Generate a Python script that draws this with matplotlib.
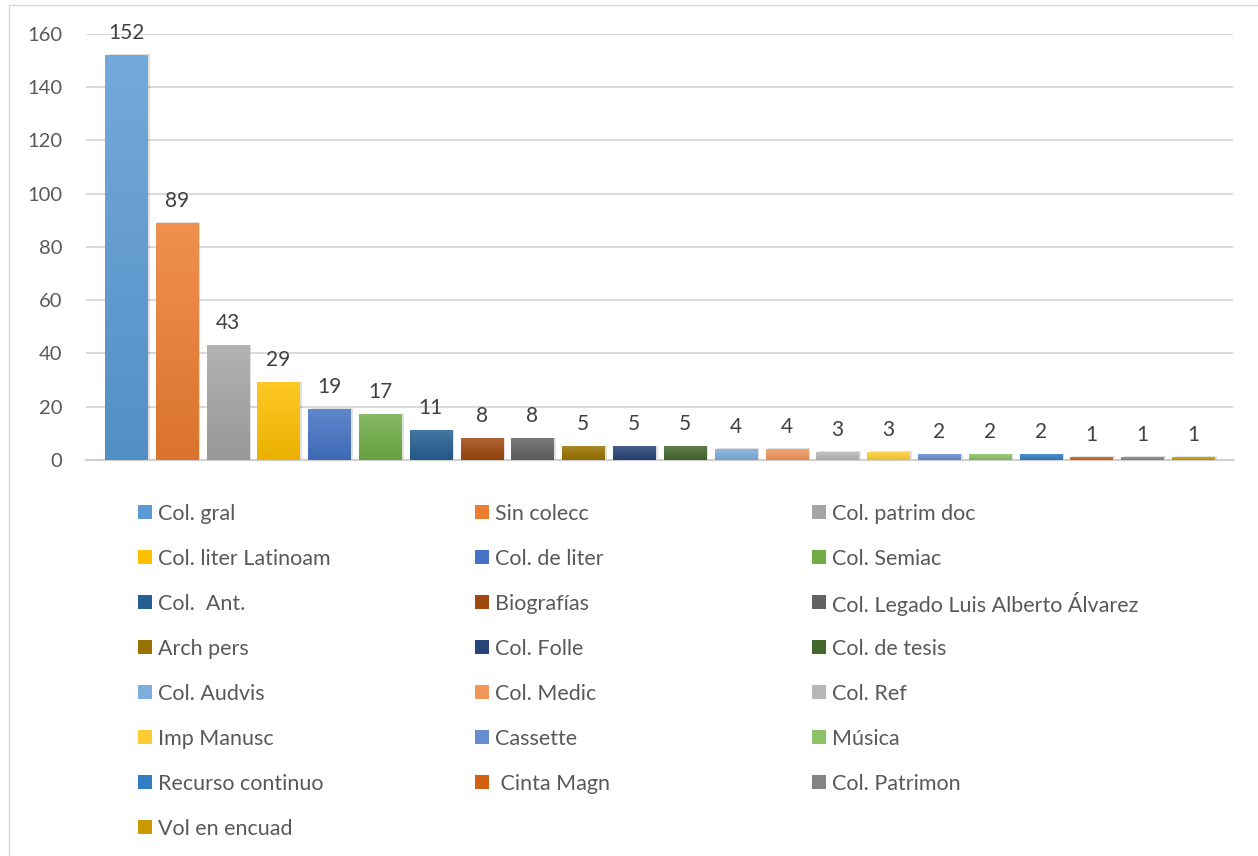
import numpy as np
import matplotlib
matplotlib.use("Agg")
import matplotlib.pyplot as plt
from matplotlib.colors import LinearSegmentedColormap, to_rgb
from matplotlib.patches import Rectangle
from matplotlib.lines import Line2D

# Data
categories = ["Col. gral", "Sin colecc", "Col. patrim doc", "Col. liter Latinoam",
              "Col. de liter", "Col. Semiac", "Col.  Ant.", "Biografías",
              "Col. Legado Luis Alberto Álvarez", "Arch pers", "Col. Folle",
              "Col. de tesis", "Col. Audvis", "Col. Medic", "Col. Ref",
              "Imp Manusc", "Cassette", "Música", "Recurso continuo",
              " Cinta Magn", "Col. Patrimon", "Vol en encuad"]
values = [152, 89, 43, 29, 19, 17, 11, 8, 8, 5, 5, 5, 4, 4, 3, 3, 2, 2, 2, 1, 1, 1]
colors = ["#5B9BD5", "#ED7D31", "#A5A5A5", "#FFC000", "#4472C4", "#70AD47",
          "#255E91", "#9E480E", "#636363", "#997300", "#264478", "#43682B",
          "#7CAFDD", "#F1975A", "#B7B7B7", "#FFCD33", "#698ED0", "#8CC168",
          "#327DC2", "#D26012", "#848484", "#CC9A00"]
yticks = [0, 20, 40, 60, 80, 100, 120, 140, 160]

plt.rcParams['font.family'] = ['Lato', 'DejaVu Sans']
text_col = "#595959"
W, H = 1258, 856


def shade(c, f):
    # f > 0 lightens towards white, f < 0 darkens
    r = np.array(to_rgb(c))
    if f > 0:
        return tuple(r + (1 - r) * f)
    return tuple(r * (1 + f))


def fx(px):
    return px / W


def fy(py):
    return 1 - py / H


fig = plt.figure(figsize=(W / 100, H / 100), dpi=100)
# chart border (only left and top are inside the picture)
fig.add_artist(Line2D([fx(9), fx(9), 1], [0, fy(5), fy(5)], transform=fig.transFigure,
                      color="#D9D9D9", linewidth=1))
ax = fig.add_axes([fx(86), fy(460), fx(1233 - 86), (460 - 34) / H])

x = np.arange(len(values))
bw = 0.827
bars = ax.bar(x, values, width=bw, color="none", zorder=3)

# gradient fills + soft shadow like the office chart
for b, c in zip(bars, colors):
    x0, w, h = b.get_x(), b.get_width(), b.get_height()
    ax.add_patch(Rectangle((x0 + 0.05, 0), w, h + 0.35, facecolor="#000000",
                           alpha=0.12, edgecolor="none", zorder=2))
    cmap = LinearSegmentedColormap.from_list("g", [shade(c, -0.08), shade(c, 0.15)])
    grad = np.linspace(0, 1, 128).reshape(-1, 1)
    ax.imshow(grad, extent=[x0, x0 + w, 0, h], origin="lower", aspect="auto",
              cmap=cmap, zorder=3)
    ax.annotate(str(int(h)), (x0 + w / 2, h), xytext=(0, 9), textcoords="offset points",
                ha="center", va="bottom", fontsize=15, color="#404040")

ax.set_xlim(-0.787, len(values) - 1 + 0.787)
ax.set_ylim(0, 160)
ax.set_yticks(yticks)
ax.set_xticks([])
ax.tick_params(axis="y", length=0, pad=17, labelsize=14.5, labelcolor=text_col)
ax.grid(axis="y", color="#D9D9D9", linewidth=1.4, zorder=0)
ax.set_axisbelow(True)
for s in ["top", "right", "left"]:
    ax.spines[s].set_visible(False)
ax.spines["bottom"].set_color("#D0D0D0")
ax.spines["bottom"].set_linewidth(1.6)

# legend: three columns, filled row by row
for i, (lab, c) in enumerate(zip(categories, colors)):
    r, k = divmod(i, 3)
    yc = 512 + 45 * r
    xm = 138 + 337 * k
    fig.add_artist(Rectangle((fx(xm), fy(yc + 7)), fx(14), 14 / H,
                             transform=fig.transFigure, facecolor=c, edgecolor="none"))
    fig.text(fx(xm + 20), fy(yc), lab, ha="left", va="center_baseline",
             fontsize=15.5, color=text_col)

fig.savefig("out.png", dpi=100)
